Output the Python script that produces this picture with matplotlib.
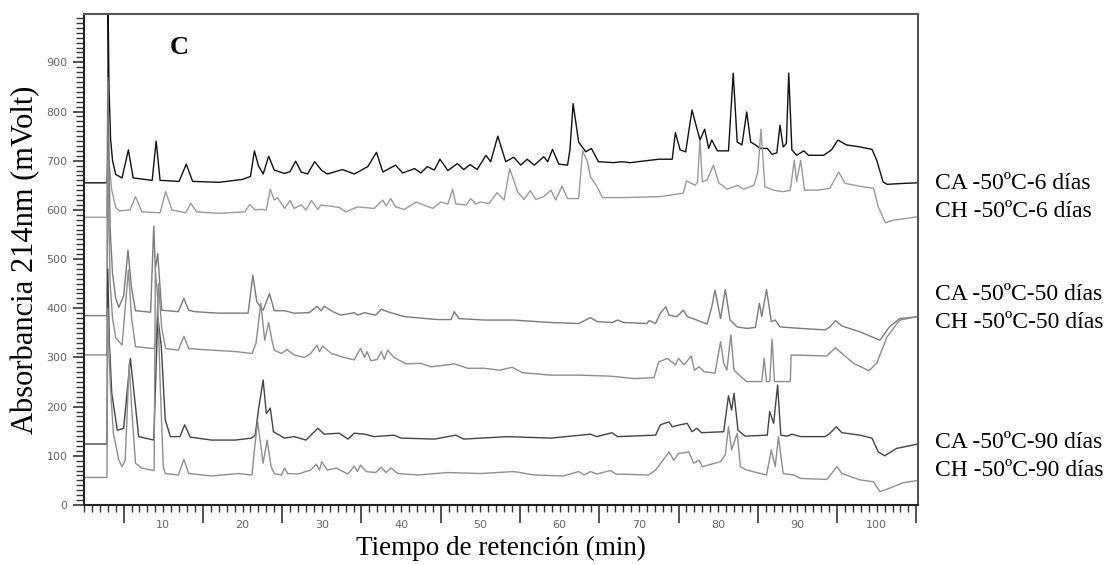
import matplotlib
matplotlib.use('Agg')
import matplotlib.pyplot as plt
from matplotlib.ticker import MultipleLocator, FixedLocator

# chromatograms: (retention time min, absorbance mV)
ca6 = [(0, 655), (2.9, 655), (3.0, 700), (3.05, 1000), (3.15, 850), (3.35, 745), (3.6, 700), (4.0, 672),
       (4.8, 665), (5.6, 722), (6.2, 665), (8.6, 660), (9.1, 740), (9.6, 660), (12.0, 658), (12.9, 693),
       (13.7, 658), (17.0, 656), (20.0, 662), (21.0, 668), (21.5, 720), (22.0, 690), (22.6, 673), (23.3, 709),
       (24.0, 681), (25.3, 674), (26.0, 678), (26.7, 699), (27.4, 677), (28.2, 673), (29.1, 698), (30.0, 680),
       (30.7, 673), (32.6, 682), (34.1, 673), (35.8, 688), (36.9, 717), (37.7, 677), (39.3, 691), (40.2, 675),
       (41.7, 684), (42.5, 675), (43.3, 688), (44.2, 681), (44.9, 703), (45.9, 680), (47.1, 694), (47.9, 682),
       (48.7, 692), (49.6, 682), (50.7, 711), (51.3, 698), (52.2, 750), (53.2, 698), (54.2, 707), (55.1, 691),
       (55.9, 703), (56.8, 691), (58.0, 708), (58.5, 698), (59.1, 723), (59.9, 693), (61.0, 691), (61.3, 722),
       (61.7, 816), (62.4, 738), (63.3, 718), (64.0, 725), (64.9, 698), (66.8, 696), (67.9, 698), (68.9, 696),
       (72.5, 703), (74.2, 703), (74.6, 757), (75.2, 722), (75.9, 718), (76.7, 803), (77.7, 742), (78.3, 764),
       (78.8, 725), (79.2, 742), (79.9, 720), (81.3, 720), (81.9, 878), (82.4, 738), (83.0, 732), (83.6, 799),
       (84.1, 738), (84.7, 732), (85.3, 725), (86.2, 725), (86.8, 713), (87.4, 716), (87.8, 772), (88.2, 728),
       (88.6, 735), (88.9, 878), (89.3, 722), (89.9, 711), (90.8, 720), (91.4, 711), (93.3, 711), (94.3, 722),
       (95.1, 742), (96.2, 732), (97.9, 728), (99.4, 723), (100.0, 701), (100.8, 657), (101.3, 652),
       (103.6, 654), (105.2, 655)]

ch6 = [(0, 585), (2.9, 585), (3.0, 860), (3.15, 700), (3.5, 640), (4.0, 605), (4.5, 598), (5.8, 600),
       (6.5, 627), (7.3, 596), (9.6, 594), (10.3, 637), (11.1, 600), (12.8, 594), (13.5, 613), (14.2, 596),
       (17.0, 593), (20.3, 596), (20.9, 611), (21.6, 600), (22.3, 601), (23.0, 600), (23.5, 642), (24.0, 620),
       (24.4, 625), (25.3, 603), (26.0, 619), (26.5, 603), (27.4, 610), (28.0, 600), (28.7, 619), (29.5, 601),
       (29.9, 610), (32.2, 605), (33.0, 596), (34.5, 606), (36.6, 603), (37.7, 620), (38.1, 608), (38.7, 623),
       (39.3, 606), (40.4, 601), (41.9, 616), (44.0, 603), (45.0, 616), (45.9, 612), (46.5, 642), (46.9, 612),
       (48.2, 610), (48.8, 623), (49.4, 612), (50.0, 616), (51.1, 613), (52.1, 635), (53.0, 620), (53.7, 684),
       (54.7, 637), (55.5, 621), (56.3, 639), (57.0, 621), (58.0, 627), (58.9, 640), (59.5, 620), (60.3, 648),
       (61.0, 623), (62.4, 623), (62.9, 720), (63.5, 698), (63.9, 667), (64.7, 648), (65.4, 625), (68.1, 625),
       (72.7, 627), (75.6, 634), (76.0, 659), (77.1, 650), (77.4, 657), (77.7, 742), (78.0, 657), (78.6, 661),
       (79.4, 691), (80.1, 654), (80.5, 650), (81.1, 642), (82.4, 650), (83.2, 642), (84.5, 650), (85.0, 677),
       (85.4, 764), (85.9, 647), (87.0, 640), (88.2, 637), (89.1, 640), (89.6, 701), (89.9, 657), (90.4, 701),
       (90.9, 640), (92.5, 640), (94.1, 644), (95.2, 677), (96.0, 654), (97.9, 648), (99.6, 644), (100.2, 606),
       (101.1, 574), (102.1, 579), (105.2, 586)]

ca50 = [(0, 385), (2.9, 385), (3.0, 870), (3.3, 560), (3.6, 470), (4.0, 420), (4.4, 402), (5.0, 425),
        (5.55, 518), (6.0, 440), (6.5, 395), (8.4, 392), (8.8, 567), (9.0, 480), (9.3, 511), (9.8, 396),
        (11.9, 393), (12.6, 420), (13.2, 396), (14.0, 393), (17.0, 390), (20.7, 390), (21.3, 467), (21.8, 413),
        (22.6, 396), (23.4, 430), (24.0, 395), (25.3, 395), (26.5, 390), (28.4, 391), (29.4, 404), (29.9, 395),
        (30.3, 404), (31.4, 393), (32.4, 386), (34.1, 391), (34.5, 386), (35.4, 391), (36.8, 386), (37.5, 398),
        (38.3, 393), (40.4, 383), (44.6, 377), (46.3, 377), (46.7, 393), (47.3, 379), (50.5, 376), (54.2, 376),
        (58.9, 371), (62.4, 369), (63.9, 381), (64.7, 373), (66.6, 371), (67.3, 376), (68.1, 371), (71.0, 369),
        (71.3, 375), (72.1, 369), (72.7, 390), (73.4, 403), (73.8, 386), (74.8, 383), (75.6, 396), (76.1, 383),
        (77.3, 376), (78.6, 368), (79.2, 403), (79.6, 437), (80.3, 379), (80.9, 438), (81.5, 376), (82.4, 362),
        (83.6, 359), (84.7, 361), (85.2, 410), (85.5, 383), (86.1, 438), (86.7, 373), (87.2, 376), (87.8, 362),
        (90.4, 359), (93.5, 356), (94.1, 362), (94.8, 375), (95.6, 364), (97.9, 352), (100.4, 335),
        (101.6, 362), (102.9, 379), (105.2, 383)]

ch50 = [(0, 305), (2.9, 305), (3.0, 700), (3.3, 450), (3.6, 380), (4.0, 340), (4.8, 325), (5.6, 478),
        (6.0, 380), (6.5, 322), (8.8, 318), (9.1, 330), (9.4, 450), (9.8, 360), (10.3, 318), (11.9, 315),
        (12.6, 343), (13.2, 318), (15.9, 315), (19.1, 312), (21.2, 308), (21.7, 329), (22.3, 410), (22.8, 335),
        (23.3, 371), (23.7, 335), (24.0, 315), (24.9, 308), (25.6, 316), (26.5, 305), (27.8, 300), (28.6, 308),
        (29.4, 325), (29.7, 312), (30.1, 323), (31.2, 308), (32.8, 300), (34.1, 295), (34.5, 308), (34.9, 318),
        (35.4, 300), (35.7, 312), (36.2, 293), (37.0, 296), (37.5, 312), (37.9, 296), (38.3, 315), (39.1, 300),
        (40.6, 287), (42.5, 288), (43.8, 281), (45.9, 285), (46.7, 287), (48.4, 278), (50.5, 278), (52.4, 274),
        (54.0, 280), (55.3, 269), (58.9, 264), (62.4, 264), (66.4, 262), (69.4, 257), (71.9, 259), (72.5, 291),
        (73.6, 298), (74.6, 285), (75.0, 298), (75.7, 285), (76.6, 303), (77.0, 274), (77.6, 281), (78.2, 271),
        (79.6, 268), (80.3, 332), (80.7, 288), (81.1, 274), (81.6, 346), (82.0, 274), (82.8, 262), (83.6, 251),
        (85.5, 251), (85.8, 298), (86.1, 251), (86.5, 251), (86.8, 337), (87.1, 251), (89.1, 251), (89.2, 305),
        (93.7, 303), (94.8, 320), (95.6, 308), (97.1, 288), (99.0, 273), (100.0, 288), (101.3, 342),
        (102.9, 376), (105.2, 383)]

ca90 = [(0, 124), (2.9, 124), (3.0, 480), (3.2, 330), (3.5, 227), (4.2, 152), (5.0, 156), (5.85, 298),
        (6.5, 200), (6.9, 139), (8.8, 132), (9.3, 383), (9.75, 322), (10.25, 173), (10.9, 139), (12.1, 139),
        (12.7, 163), (13.4, 138), (16.1, 132), (19.1, 132), (21.1, 136), (21.6, 142), (22.0, 193), (22.6, 254),
        (23.0, 186), (23.5, 197), (23.9, 149), (25.3, 136), (26.5, 139), (28.0, 132), (29.5, 156), (30.3, 144),
        (32.2, 146), (33.3, 134), (34.1, 146), (35.4, 144), (36.6, 139), (39.1, 142), (40.0, 136), (44.2, 134),
        (46.9, 142), (47.9, 134), (53.4, 139), (58.9, 136), (63.9, 144), (64.7, 139), (66.6, 147), (67.3, 139),
        (72.1, 142), (72.7, 163), (73.8, 169), (74.2, 159), (75.2, 163), (76.1, 166), (76.7, 149), (77.3, 156),
        (77.9, 147), (80.7, 149), (81.3, 222), (81.7, 193), (82.0, 227), (82.5, 152), (83.4, 140), (86.2, 142),
        (86.5, 190), (87.0, 166), (87.5, 244), (87.9, 142), (88.7, 140), (89.3, 144), (90.4, 139), (93.5, 139),
        (94.1, 146), (94.9, 159), (95.6, 147), (97.9, 142), (99.4, 136), (100.2, 108), (101.0, 100),
        (102.5, 115), (105.2, 124)]

ch90 = [(0, 56), (2.9, 56), (3.0, 400), (3.3, 250), (3.7, 146), (4.4, 91), (4.8, 78), (5.2, 91), (5.7, 288),
        (6.0, 200), (6.5, 85), (7.3, 75), (8.85, 70), (9.0, 480), (9.3, 420), (9.6, 250), (10.0, 78),
        (10.25, 64), (11.9, 61), (12.6, 93), (13.2, 64), (16.1, 59), (19.5, 64), (21.2, 61), (21.5, 112),
        (21.9, 170), (22.6, 85), (23.1, 132), (23.6, 78), (24.0, 64), (24.9, 61), (25.3, 75), (25.7, 64),
        (27.0, 63), (28.6, 71), (29.3, 83), (29.7, 71), (30.0, 88), (30.7, 71), (31.8, 75), (33.3, 63),
        (34.1, 79), (34.5, 68), (34.9, 81), (35.6, 68), (36.8, 66), (37.5, 77), (38.1, 66), (38.7, 75),
        (39.6, 64), (42.1, 61), (45.9, 66), (50.0, 64), (54.2, 68), (56.8, 61), (60.5, 59), (62.4, 68),
        (63.1, 61), (63.9, 68), (64.7, 63), (66.4, 70), (67.1, 63), (71.2, 61), (72.1, 71), (72.9, 88),
        (73.8, 108), (74.4, 91), (75.0, 105), (75.7, 106), (76.3, 108), (76.9, 85), (77.6, 91), (78.0, 78),
        (80.3, 88), (80.9, 102), (81.3, 159), (81.7, 112), (82.4, 146), (82.8, 78), (83.6, 71), (86.1, 61),
        (86.7, 112), (87.2, 78), (87.6, 139), (88.2, 64), (89.5, 61), (90.4, 54), (93.7, 52), (95.0, 78),
        (95.6, 64), (97.9, 51), (99.6, 47), (100.4, 27), (101.6, 34), (103.3, 45), (105.2, 50)]

series = [ca6, ch6, ca50, ch50, ca90, ch90]
labels = ['CA -50ºC-6 días', 'CH -50ºC-6 días', 'CA -50ºC-50 días',
          'CH -50ºC-50 días', 'CA -50ºC-90 días', 'CH -50ºC-90 días']
colors = ['#111111', '#9a9a9a', '#7a7a7a', '#8c8c8c', '#444444', '#8e8e8e']
label_y = [0.676, 0.625, 0.478, 0.430, 0.216, 0.168]

serif = ['Liberation Serif', 'DejaVu Serif']

fig = plt.figure(figsize=(11.14, 5.65), dpi=100)
ax = fig.add_axes([0.0754, 0.1062, 0.7486, 0.8688])

for data, c in zip(series, colors):
    t = [p[0] for p in data]
    v = [p[1] for p in data]
    ax.plot(t, v, color=c, lw=1.0)

ax.set_xlim(0, 105.2)
ax.set_ylim(0, 998)

ax.xaxis.set_major_locator(FixedLocator([5, 15, 25, 35, 45, 55, 65, 75, 85, 95, 105]))
ax.xaxis.set_minor_locator(MultipleLocator(1))
ax.set_xticklabels([])
ax.tick_params(axis='x', which='major', length=13, width=1.2, color='#333333')
ax.tick_params(axis='x', which='minor', length=5, width=1.0, color='#333333')
for x in range(10, 101, 10):
    ax.text(x, -40, str(x), ha='center', va='center', fontsize=8, color='#666666')

ax.yaxis.set_major_locator(MultipleLocator(100))
ax.yaxis.set_minor_locator(MultipleLocator(10))
ax.tick_params(axis='y', which='major', length=8, width=1.2, color='#333333',
               labelsize=8, labelcolor='#666666', pad=4)
ax.tick_params(axis='y', which='minor', length=6, width=1.0, color='#333333')

for s in ['left', 'bottom']:
    ax.spines[s].set_color('#222222')
    ax.spines[s].set_linewidth(1.5)
for s in ['top', 'right']:
    ax.spines[s].set_color('#555555')
    ax.spines[s].set_linewidth(1.5)

ax.set_xlabel('Tiempo de retención (min)', family=serif, fontsize=19.5, labelpad=6)
ax.set_ylabel('Absorbancia 214nm (mVolt)', family=serif, fontsize=22, labelpad=4)
ax.text(12.0, 930, 'C', family=serif, fontsize=19, fontweight='bold', ha='center', va='center')

for lab, y in zip(labels, label_y):
    fig.text(0.839, y, lab, family=serif, fontsize=17, va='center', ha='left')

fig.savefig('out.png', dpi=100)
